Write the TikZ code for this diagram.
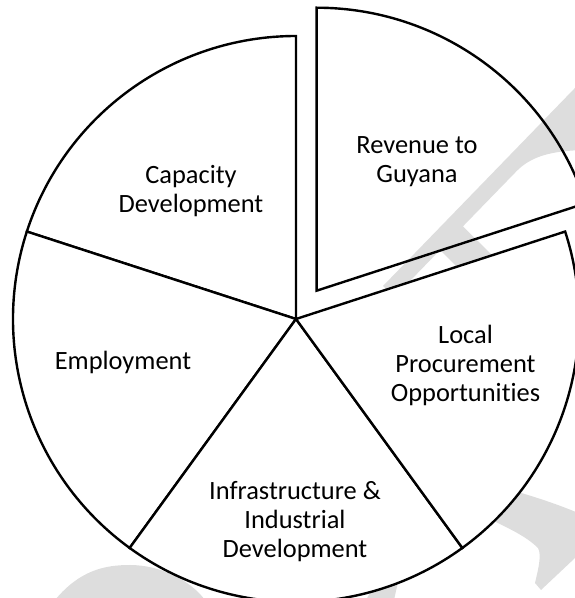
\documentclass[tikz,border=0pt]{standalone}
\usepackage{fontspec}
\setmainfont{Carlito}[Ligatures={NoCommon,NoContextual}]
\definecolor{wmgray}{HTML}{DDDDDD}
\begin{document}
\begin{tikzpicture}[x=1pt,y=1pt,
  slice/.style={draw=black,line width=2.4pt,line join=miter},
  wedgefill/.style={slice,fill=white},
  watermark/.style={fill=wmgray,draw=none},
  sliceText/.style={font=\fontsize{26.4}{29}\selectfont,align=center,inner sep=0pt}]
\useasboundingbox (0,0) rectangle (575,598);
\clip (0,0) rectangle (575,598);
% pie centre and the centre of the pulled-out wedge
\coordinate (c) at (296,279);
\coordinate (e) at (316.6,307.3);

% faint watermark lettering in the background
\path[watermark] (383,312) -- (590,525.5) -- (590,448)
  .. controls (548,448) and (530,440) .. (517,427.3)
  -- (463,371.7) -- (560,275) -- (537,251) -- (440,348) -- (394.5,301) -- cycle;
\path[watermark] (505,118) -- (518,106) .. controls (545,98) and (565,91) .. (590,80)
  -- (590,53) -- (575,40) -- (541,8) -- (535,15)
  .. controls (538,28) and (542,43) .. (538,50)
  .. controls (525,63) and (505,71) .. (488,80) -- cycle;
\path[watermark] (55,-2) .. controls (80,28) and (105,33) .. (130,33)
  .. controls (160,33) and (190,18) .. (205,-2) -- cycle;
\path[watermark] (366,-2) -- (376,16) -- (398,16) -- (394,-2) -- cycle;

% the four wedges that stay in place
\path[wedgefill] (c) -- ++(90:283pt) arc[start angle=90,end angle=162,radius=283pt] -- cycle;
\path[wedgefill] (c) -- ++(162:283pt) arc[start angle=162,end angle=234,radius=283pt] -- cycle;
\path[wedgefill] (c) -- ++(234:283pt) arc[start angle=234,end angle=306,radius=283pt] -- cycle;
\path[wedgefill] (c) -- ++(306:283pt) arc[start angle=306,end angle=378,radius=283pt] -- cycle;
% the pulled-out wedge
\path[slice] (e) -- ++(18:283pt) arc[start angle=18,end angle=90,radius=283pt] -- cycle;

% wedge captions
\node[sliceText] (capacity) at (191,407) {Capacity\\Development};
\node[sliceText] (revenue) at (417,436) {Revenue to\\Guyana};
\node[sliceText,anchor=base] (employment) at (123,228) {Employment};
\node[sliceText] (local) at (465.5,232.5) {Local\\Procurement\\Opportunities};
\node[sliceText] (infra) at (295,76) {Infrastructure \&\\Industrial\\Development};
\end{tikzpicture}
\end{document}
